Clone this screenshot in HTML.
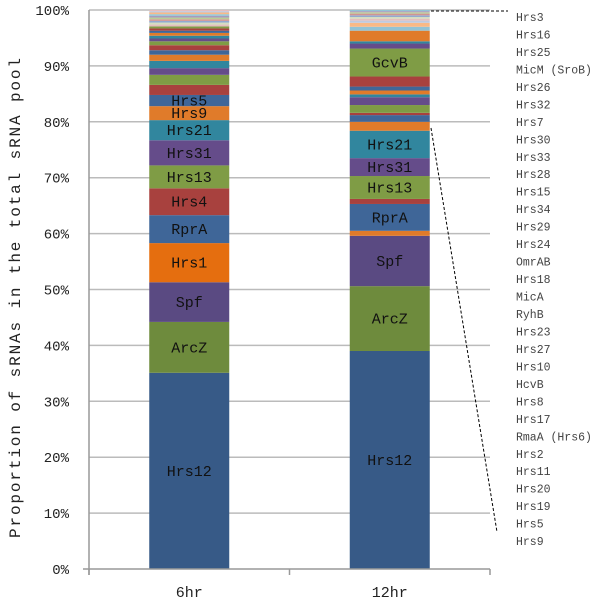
<!DOCTYPE html>
<html><head><meta charset="utf-8"><style>
html,body{margin:0;padding:0;background:#fff;}
svg{display:block;font-family:"Liberation Mono",monospace;}
</style></head><body>
<svg id="chart" width="600" height="602" viewBox="0 0 600 602" xmlns="http://www.w3.org/2000/svg">
<g id="grid"></g>
<g id="yaxis"></g>
<g id="bars"></g>
<g id="xaxis"></g>
<g id="legend"></g>
<text transform="translate(20,298) rotate(-90)" text-anchor="middle" font-size="16" textLength="480" lengthAdjust="spacing" fill="#222">Proportion of sRNAs in the total sRNA pool</text>
<line x1="431" y1="11" x2="508" y2="11" stroke="#000" stroke-dasharray="3,2" stroke-width="1"/>
<line x1="431" y1="128" x2="497" y2="532" stroke="#000" stroke-dasharray="3,2" stroke-width="1"/>
</svg>
<script>
const categories = ["6hr", "12hr"];
const yTicks = [0,10,20,30,40,50,60,70,80,90,100];
const bar6Values = [35.1,9.1,7.1,7.0,5.0,4.8,4.1,4.5,3.6,2.5,2.0,1.8,1.8,1.2,1.3,1.1,0.8,0.9,0.7,0.5,0.5,0.5,0.4,0.4,0.35,0.35,0.35,0.3,0.3,0.3,0.3,0.3,0.3,0.25,0.2];
const bar6Labels = ["Hrs12","ArcZ","Spf","Hrs1","RprA","Hrs4","Hrs13","Hrs31","Hrs21","Hrs9","Hrs5"];
const bar12Values = [39,11.6,9.0,0.9,4.8,0.9,4.1,3.2,4.9,1.6,1.2,0.4,1.4,1.4,0.5,0.7,0.7,1.8,5.0,0.9,0.4,1.9,0.7,0.7,0.4,0.35,0.3,0.3,0.3,0.25,0.2,0.2];
const bar12Labels = {0:"Hrs12",1:"ArcZ",2:"Spf",4:"RprA",6:"Hrs13",7:"Hrs31",8:"Hrs21",18:"GcvB"};
const legendNames = ["Hrs3","Hrs16","Hrs25","MicM (SroB)","Hrs26","Hrs32","Hrs7","Hrs30","Hrs33","Hrs28","Hrs15","Hrs34","Hrs29","Hrs24","OmrAB","Hrs18","MicA","RyhB","Hrs23","Hrs27","Hrs10","HcvB","Hrs8","Hrs17","RmaA (Hrs6)","Hrs2","Hrs11","Hrs20","Hrs19","Hrs5","Hrs9"];

const NS="http://www.w3.org/2000/svg";
const y0=569, y1=10, xL=89, xR=490;
const yScale=v=>y0-(v/100)*(y0-y1);
const xCenter=i=>xL+(xR-xL)*(i+0.5)/categories.length;
const barW=80;
const cycle=["#3F6698","#A8413E","#7F9C45","#654C8A","#31869E","#E07B2A"];
const pale=["#93A9CF","#D09493","#B9CD96","#A99BBD","#92C3D5","#F9B986","#C0CADF","#E5BFBE","#D4DEC0"];
function colorFor(bar,i,n){
  if(i===0) return "#375A87";
  if(i===1) return "#6E8B3D";
  if(i===2) return "#5A4A82";
  if(bar===0 && i===3) return "#E56E0F";
  if(i>=n-10) return pale[(i)%pale.length];
  return cycle[(i+2)%6];
}
function mk(tag,attrs,parent){const e=document.createElementNS(NS,tag);for(const k in attrs)e.setAttribute(k,attrs[k]);parent.appendChild(e);return e;}
const grid=document.getElementById('grid'), ya=document.getElementById('yaxis');
yTicks.forEach(t=>{
  const y=yScale(t);
  const g=mk('line',{x1:t===0?83:xL,x2:xR,y1:y,y2:y,stroke:t===0?'#999':'#bbb','stroke-width':1.5},t===0?document.getElementById('xaxis'):grid);
  
  
  const tx=mk('text',{x:69,y:y+5,'text-anchor':'end','font-size':14,fill:'#222'},ya);
  tx.textContent=t+'%';
  
  
});
const yl=mk('line',{x1:xL,x2:xL,y1:y1,y2:y0+6,stroke:'#999','stroke-width':1.5},ya);


const xa=document.getElementById('xaxis');
for(let i=0;i<=categories.length;i++){
  const x=xL+(xR-xL)*i/categories.length;
  const t=mk('line',{x1:x,x2:x,y1:y0,y2:y0+6,stroke:'#999','stroke-width':1.5},xa);
  
  
}
categories.forEach((c,i)=>{
  const t=mk('text',{x:xCenter(i),y:597,'text-anchor':'middle','font-size':15,fill:'#222'},xa);
  t.textContent=c;
  
  
});
const bars=document.getElementById('bars');
[[bar6Values,bar6Labels],[bar12Values,bar12Labels]].forEach(([vals,labs],b)=>{
  let cum=0;const cx=xCenter(b);
  vals.forEach((v,i)=>{
    const yt=yScale(cum+v), yb=yScale(cum);
    const r=mk('rect',{x:cx-barW/2,y:yt,width:barW,height:yb-yt,fill:colorFor(b,i,vals.length)},bars);
    
    
    const lab=labs[i];
    if(lab){
      const t=mk('text',{x:cx,y:(yt+yb)/2+5,'text-anchor':'middle','font-size':15,fill:'#111'},bars);
      t.textContent=lab;
      
      
    }
    cum+=v;
  });
});
const lg=document.getElementById('legend');
legendNames.forEach((n,i)=>{
  const t=mk('text',{x:516,y:21+i*17.47,'font-size':11.5,fill:'#444'},lg);
  t.textContent=n;
  
  
});
</script>
</body></html>
